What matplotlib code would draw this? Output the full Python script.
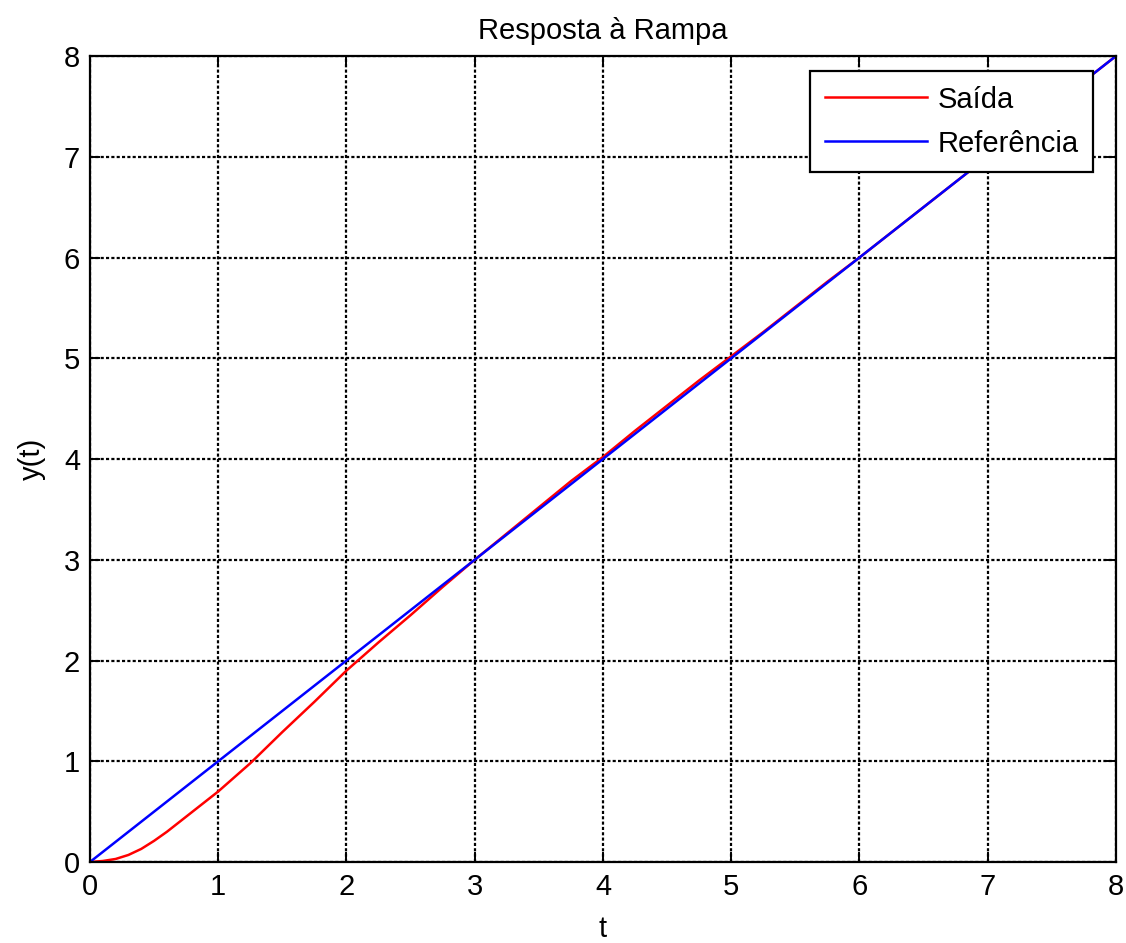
import numpy as np
import matplotlib
matplotlib.use("Agg")
import matplotlib.pyplot as plt

plt.rcParams['font.family'] = ['Liberation Sans', 'DejaVu Sans']

# time axis and the ramp reference
t_ref = [0, 1, 2, 3, 4, 5, 6, 7, 8]
y_ref = [0, 1, 2, 3, 4, 5, 6, 7, 8]

# system output (Saida)
t_out = [0, 0.1, 0.2, 0.3, 0.4, 0.5, 0.6, 0.7, 0.8, 0.9, 1.0,
         1.25, 1.5, 1.75, 2.0, 2.25, 2.5, 2.75,
         3.0, 3.25, 3.5, 3.75, 4.0, 4.25, 4.5, 4.75, 5.0, 5.25, 5.5, 5.75,
         6.0, 6.5, 7.0, 7.5, 8.0]
y_out = [0, 0.01, 0.03, 0.07, 0.13, 0.21, 0.30, 0.40, 0.50, 0.60, 0.70,
         0.98, 1.29, 1.59, 1.90, 2.18, 2.45, 2.73,
         3.00, 3.26, 3.52, 3.78, 4.02, 4.28, 4.53, 4.78, 5.02, 5.26, 5.51, 5.76,
         6.00, 6.50, 7.00, 7.50, 8.00]

FS = 21

fig = plt.figure(figsize=(11.26, 9.43), dpi=100)
ax = fig.add_axes([0.0799, 0.0859, 0.9112, 0.8547])

ax.plot(t_out, y_out, color='#ff0000', linewidth=1.8, label='Saída')
ax.plot(t_ref, y_ref, color='#0000ff', linewidth=1.8, label='Referência')

ax.set_xlim(0, 8)
ax.set_ylim(0, 8)
ax.set_xticks(range(0, 9))
ax.set_yticks(range(0, 9))

ax.grid(True, color='black', linestyle=(0, (1.4, 1.0)), linewidth=1.6)
ax.tick_params(direction='in', top=True, right=True, length=7, width=1.4,
               labelsize=FS)
ax.tick_params(axis='x', pad=8)
ax.tick_params(axis='y', pad=7)
for s in ax.spines.values():
    s.set_linewidth(1.6)

ax.set_title('Resposta à Rampa', fontsize=FS, pad=12)
ax.set_xlabel('t', fontsize=FS, labelpad=10)
ax.set_ylabel('y(t)', fontsize=FS, labelpad=13)

leg = ax.legend(loc='upper right', fontsize=FS, fancybox=False,
                framealpha=1, edgecolor='black', handlelength=3.5,
                handletextpad=0.35, borderpad=0.5, labelspacing=0.55,
                borderaxespad=0, bbox_to_anchor=(0.9776, 0.9814))
leg.get_frame().set_linewidth(1.6)

fig.savefig('out.png', dpi=100)
